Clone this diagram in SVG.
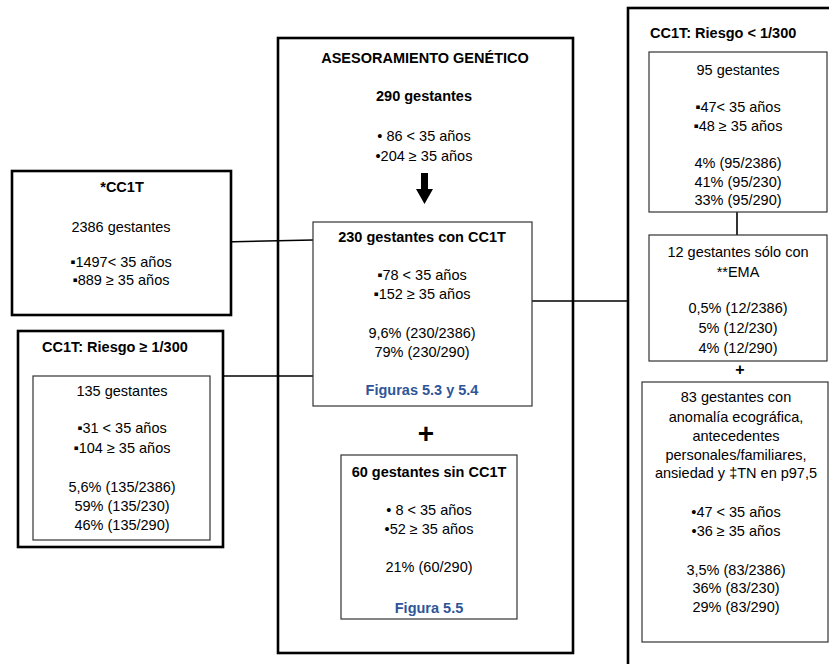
<svg xmlns="http://www.w3.org/2000/svg" width="829" height="664" viewBox="0 0 829 664">
<style>
text{font-family:"Liberation Sans",Arial,sans-serif;font-size:14.5px;fill:#000}
.c{text-anchor:middle}
.b{font-weight:bold}
.blue{fill:#2F5597;font-weight:bold}
.outer{fill:#fff;stroke:#000;stroke-width:2.6}
.inner{fill:#fff;stroke:#333;stroke-width:1.2}
.conn{stroke:#000;stroke-width:1.6;fill:none}
</style>
<rect width="829" height="664" fill="#fff"/>

<g id="asesoramiento">
<rect class="outer" x="278" y="38" width="295" height="615"/>
<text class="c b" x="425" y="63">ASESORAMIENTO GENÉTICO</text>
<text class="c b" x="424" y="101">290 gestantes</text>
<text class="c" x="424" y="141">• 86 &lt; 35 años</text>
<text class="c" x="424" y="161">•204 ≥ 35 años</text>
<path d="M421,173 H428 V189 H433 L424.5,204 L416,189 H421 Z" fill="#000"/>
<text class="c b" x="426" y="443" style="font-size:28px">+</text>
</g>

<g id="riesgo-bajo">
<rect class="outer" x="628" y="8" width="260" height="700"/>
<text class="b" x="650" y="38">CC1T: Riesgo &lt; 1/300</text>
</g>

<g id="connectors">
<line class="conn" x1="223" y1="242" x2="313" y2="240"/>
<line class="conn" x1="223" y1="376" x2="313" y2="376"/>
<line class="conn" x1="532" y1="301" x2="628" y2="301"/>
<line class="conn" x1="737" y1="212" x2="737" y2="235"/>
</g>

<g id="cc1t">
<rect class="outer" x="12" y="171" width="219" height="144"/>
<text class="c b" x="122" y="192">*CC1T</text>
<text class="c" x="121" y="232">2386  gestantes</text>
<text class="c" x="121" y="267">▪1497&lt; 35 años</text>
<text class="c" x="121" y="285">▪889 ≥ 35 años</text>
</g>

<g id="riesgo-alto">
<rect class="outer" x="18" y="331" width="205" height="216"/>
<text class="b" x="42" y="352">CC1T: Riesgo ≥ 1/300</text>
<rect class="inner" x="33" y="376" width="177" height="164"/>
<text class="c" x="122" y="396">135 gestantes</text>
<text class="c" x="122" y="433">▪31 &lt; 35 años</text>
<text class="c" x="122" y="453">▪104 ≥ 35 años</text>
<text class="c" x="122" y="492">5,6% (135/2386)</text>
<text class="c" x="122" y="511">59% (135/230)</text>
<text class="c" x="122" y="530">46% (135/290)</text>
</g>

<g id="con-cc1t">
<rect class="inner" x="313" y="222" width="219" height="184"/>
<text class="c b" x="422" y="242">230 gestantes con CC1T</text>
<text class="c" x="422" y="280">▪78 &lt; 35 años</text>
<text class="c" x="422" y="299">▪152 ≥ 35 años</text>
<text class="c" x="422" y="338">9,6% (230/2386)</text>
<text class="c" x="422" y="357">79% (230/290)</text>
<text class="c blue" x="422" y="395">Figuras 5.3  y 5.4</text>
</g>

<g id="sin-cc1t">
<rect class="inner" x="341" y="455" width="176" height="164"/>
<text class="c b" x="429" y="477">60 gestantes sin CC1T</text>
<text class="c" x="429" y="515">• 8 &lt; 35 años</text>
<text class="c" x="429" y="534">•52 ≥ 35 años</text>
<text class="c" x="429" y="572">21% (60/290)</text>
<text class="c blue" x="429" y="613">Figura 5.5</text>
</g>

<g id="g95">
<rect class="inner" x="649" y="52" width="178" height="160"/>
<text class="c" x="738" y="75">95 gestantes</text>
<text class="c" x="738" y="112">▪47&lt; 35 años</text>
<text class="c" x="738" y="131">▪48 ≥ 35 años</text>
<text class="c" x="738" y="168">4% (95/2386)</text>
<text class="c" x="738" y="187">41% (95/230)</text>
<text class="c" x="738" y="205">33% (95/290)</text>
</g>

<g id="g12">
<rect class="inner" x="649" y="235" width="178" height="126"/>
<text class="c" x="738" y="257">12 gestantes sólo con</text>
<text class="c" x="738" y="277">**EMA</text>
<text class="c" x="738" y="313">0,5% (12/2386)</text>
<text class="c" x="738" y="333">5% (12/230)</text>
<text class="c" x="738" y="353">4% (12/290)</text>
<text class="c b" x="740" y="375" style="font-size:16px">+</text>
</g>

<g id="g83">
<rect class="inner" x="642" y="382" width="186" height="260"/>
<text class="c" x="736" y="402">83 gestantes con</text>
<text class="c" x="736" y="422">anomalía ecográfica,</text>
<text class="c" x="736" y="441">antecedentes</text>
<text class="c" x="736" y="460">personales/familiares,</text>
<text class="c" x="736" y="478">ansiedad  y ‡TN en p97,5</text>
<text class="c" x="736" y="517">•47 &lt; 35 años</text>
<text class="c" x="736" y="536">•36 ≥ 35 años</text>
<text class="c" x="736" y="575">3,5% (83/2386)</text>
<text class="c" x="736" y="593">36% (83/230)</text>
<text class="c" x="736" y="612">29% (83/290)</text>
</g>
</svg>
